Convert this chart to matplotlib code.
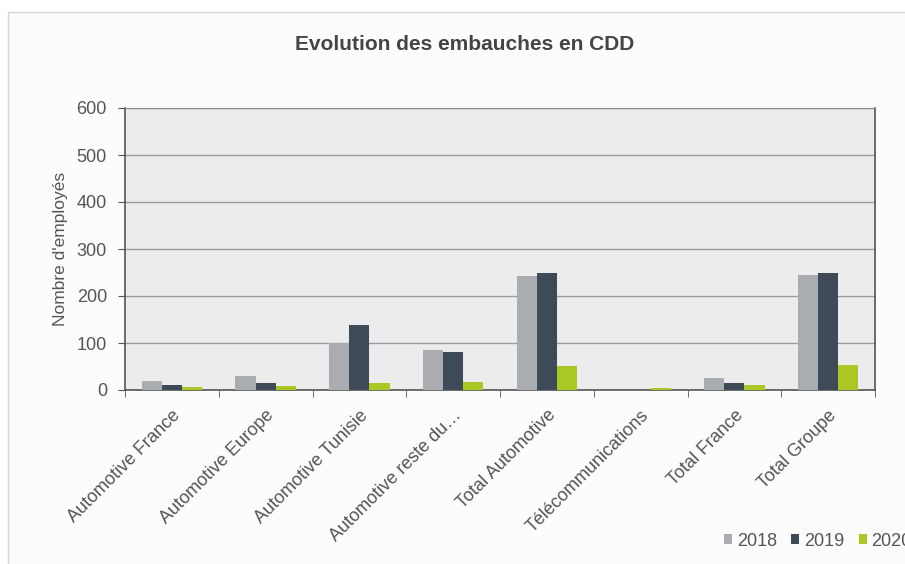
import numpy as np
import matplotlib.pyplot as plt
from matplotlib.patches import Rectangle

plt.rcParams['font.family'] = ['Liberation Sans', 'DejaVu Sans']

# CDD hires per entity
categories = ['Automotive France', 'Automotive Europe', 'Automotive Tunisie',
              'Automotive reste du…', 'Total Automotive', 'Télécommunications',
              'Total France', 'Total Groupe']
years = ['2018', '2019', '2020']
hires_2018 = [19, 29, 100, 86, 243, 0, 25, 245]
hires_2019 = [11, 14, 138, 80, 248, 0, 15, 250]
hires_2020 = [6, 9, 15, 17, 52, 4, 11, 54]

colors = ['#a9acb1', '#3e4a58', '#a9c823']
txt = '#555555'

fig = plt.figure(figsize=(9.05, 5.64), dpi=100)
fig.patch.set_facecolor('white')
# light frame around the chart panel
fig.add_artist(Rectangle((8 / 905, -0.01), 1.0, 1 - 12 / 564 + 0.01,
                         transform=fig.transFigure, facecolor='#fcfcfb',
                         edgecolor='#d4d4d4', lw=1.0, zorder=0))

ax = fig.add_axes([125 / 905, 1 - 390 / 564, 750 / 905, 282 / 564])
ax.set_facecolor('#ececec')

x = np.arange(len(categories))
w = 0.215
for i, (vals, c, yr) in enumerate(zip([hires_2018, hires_2019, hires_2020], colors, years)):
    ax.bar(x + (i - 1) * w, vals, width=w, color=c, label=yr, zorder=3)

ax.set_xlim(-0.5, len(categories) - 0.5)
ax.set_ylim(0, 600)
ax.set_yticks(range(0, 601, 100))
ax.yaxis.grid(True, color='#9c9c9c', lw=1.0, zorder=1)
ax.set_axisbelow(True)

# ticks sit between the groups, labels at the group centres
ax.set_xticks(x)
ax.set_xticks(np.arange(-0.5, len(categories), 1), minor=True)
ax.tick_params(axis='x', which='major', length=0, pad=12)
ax.tick_params(axis='x', which='minor', length=5, color=txt)
ax.tick_params(axis='y', length=5, color=txt, pad=8, labelsize=13, labelcolor=txt)
ax.set_xticklabels(categories, rotation=45, ha='right', rotation_mode='anchor',
                   fontsize=13, color=txt)

for s in ['left', 'bottom', 'right']:
    ax.spines[s].set_color(txt)
    ax.spines[s].set_linewidth(1.2)
ax.spines['top'].set_color('#8a8a8a')

ax.set_ylabel("Nombre d'employés", fontsize=12.5, color=txt, labelpad=6)
fig.text(465 / 905, 1 - 45 / 564, 'Evolution des embauches en CDD', ha='center',
         va='center', fontsize=15, fontweight='bold', color='#444444')

fig.legend(loc='center left', bbox_to_anchor=(724 / 905, 1 - 541 / 564), ncol=3,
           frameon=False, fontsize=13, handlelength=0.45, handleheight=0.45,
           handletextpad=0.25, columnspacing=0.8, borderpad=0, borderaxespad=0,
           labelcolor=txt)

plt.savefig('out.png', dpi=100)
